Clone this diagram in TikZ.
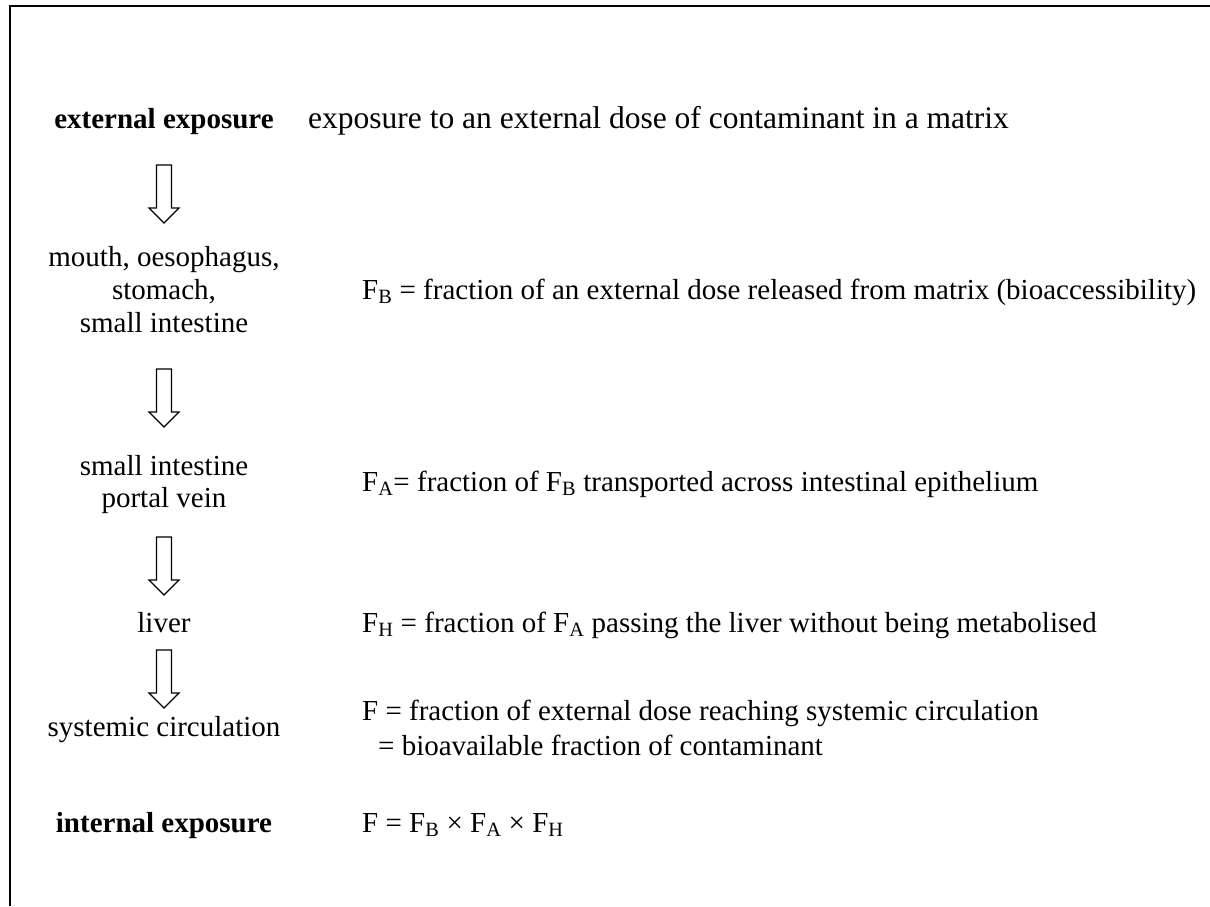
\documentclass[tikz,border=0pt]{standalone}
\usepackage{fontspec}
\setmainfont{Liberation Serif}
\begin{document}
\begin{tikzpicture}[x=1pt,y=-1pt,
  txt/.style={inner sep=0pt,font=\fontsize{29}{33}\selectfont},
  stage/.style={txt,anchor=base},
  stagebold/.style={txt,anchor=base,font=\fontsize{29}{33}\selectfont\bfseries},
  note/.style={txt,anchor=base west},
  bignote/.style={note,font=\fontsize{31.5}{36}\selectfont},
  frame/.style={line width=1.6pt},
  blockarrow/.pic={\draw[line width=1.2pt,fill=white,line join=miter]
     (-7.5,0) -- (-7.5,43) -- (-15,43) -- (0,58) -- (15,43) -- (7.5,43) -- (7.5,0) -- cycle;}]
\useasboundingbox (0,0) rectangle (1210,906);
\fill[white] (0,0) rectangle (1210,906);
% partial frame
\draw[frame] (10,906) -- (10,6) -- (1210,6);

% left column: stages
\node[stagebold] (ext) at (164,128) {external exposure};
\node[stage] (m1) at (164,266) {mouth, oesophagus,};
\node[stage] (m2) at (164,299) {stomach,};
\node[stage] (m3) at (164,332) {small intestine};
\node[stage] (s1) at (164,475) {small intestine};
\node[stage] (s2) at (164,507) {portal vein};
\node[stage] (liv) at (164,632) {liver};
\node[stage] (sys) at (164,736) {systemic circulation};
\node[stagebold] (int) at (164,832) {internal exposure};

% right column: explanations
\node[bignote] (d0) at (308,128) {exposure to an external dose of contaminant in a matrix};
\node[note] (d1) at (362,299) {F\textsubscript{B} = fraction of an external dose released from matrix (bioaccessibility)};
\node[note] (d2) at (362,491) {F\textsubscript{A}= fraction of F\textsubscript{B} transported across intestinal epithelium};
\node[note] (d3) at (362,632) {F\textsubscript{H} = fraction of F\textsubscript{A} passing the liver without being metabolised};
\node[note] (d4) at (362,720) {F = fraction of external dose reaching systemic circulation};
\node[note] (d5) at (378,755) {= bioavailable fraction of contaminant};
\node[note] (d6) at (362,832) {F = F\textsubscript{B} × F\textsubscript{A} × F\textsubscript{H}};

% block arrows between the stages
\coordinate (a1) at (164,165);
\coordinate (a2) at (164,369);
\coordinate (a3) at (164,537);
\coordinate (a4) at (164,650);
\foreach \c in {a1,a2,a3,a4} \pic at (\c) {blockarrow};
\end{tikzpicture}
\end{document}
